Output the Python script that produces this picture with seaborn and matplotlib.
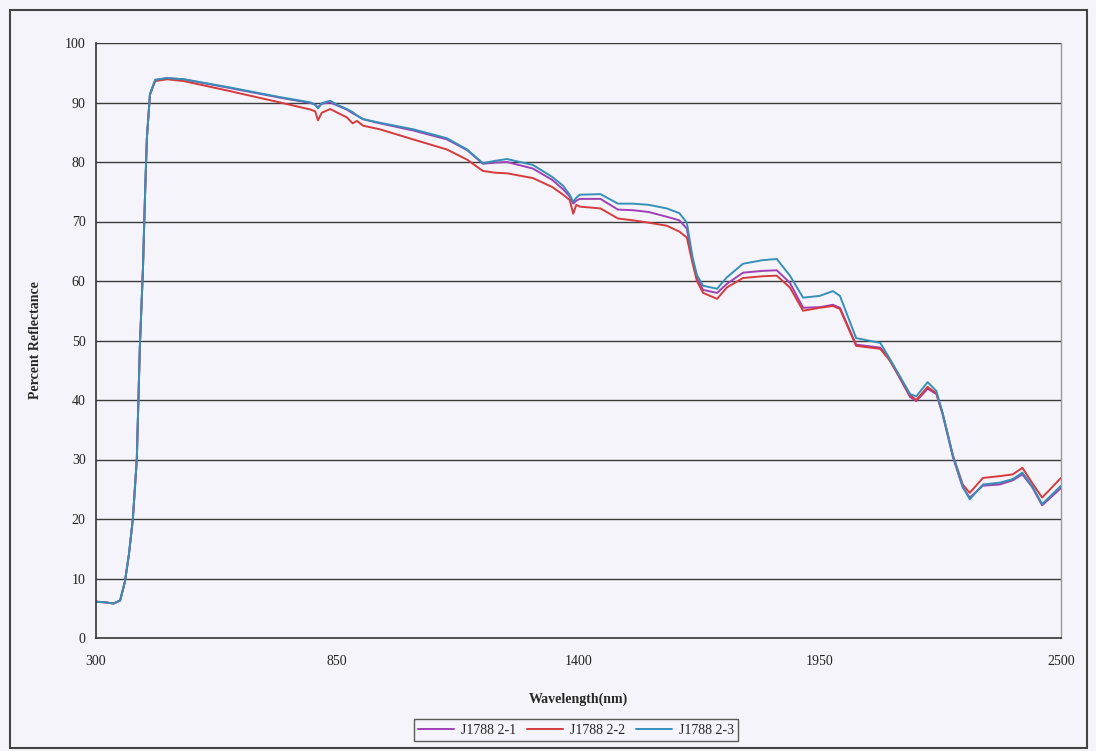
import pandas as pd
import matplotlib.pyplot as plt
import seaborn as sns
from matplotlib.patches import Rectangle

# 파장 (nm) 과 각 시료의 반사율 (%) - 그림에서 읽은 값
wavelength = [300, 320, 340, 355, 366, 375, 384, 393, 400, 407, 412, 416, 423, 435, 462, 500, 600, 720,
              790, 800, 806, 815, 834, 850, 872, 885, 895, 909, 947, 1023, 1100, 1146, 1182, 1210, 1237,
              1296, 1340, 1365, 1380, 1388, 1395, 1403, 1450, 1490, 1524, 1560, 1601, 1630, 1647, 1660,
              1670, 1684, 1716, 1738, 1775, 1820, 1852, 1882, 1912, 1950, 1980, 1996, 2033, 2088, 2110,
              2156, 2170, 2196, 2216, 2230, 2254, 2276, 2292, 2322, 2360, 2390, 2412, 2434, 2457, 2500]

refl_21 = [6.1, 6.0, 5.8, 6.3, 9.5, 14, 20, 30, 49, 62, 75, 84, 91.4, 93.8, 94.1, 93.9, 92.5, 90.8,
           89.9, 89.6, 89.2, 89.8, 90.0, 89.5, 88.8, 88.2, 87.8, 87.2, 86.5, 85.3, 83.8, 82.0, 79.7, 79.9, 80.0,
           78.9, 77.0, 75.4, 74.2, 73.0, 73.5, 73.8, 73.8, 72.0, 71.9, 71.6, 70.8, 70.2, 68.8, 63.5,
           60.5, 58.5, 58.0, 59.5, 61.4, 61.7, 61.8, 59.7, 55.5, 55.6, 56.0, 55.5, 49.3, 48.8, 46.7,
           40.5, 39.8, 41.9, 41.0, 37.6, 30.3, 25.3, 23.6, 25.6, 25.8, 26.5, 27.5, 25.4, 22.3, 25.2]

refl_22 = [6.1, 6.0, 5.8, 6.3, 9.5, 14, 20, 30, 49, 62, 75, 84, 91.3, 93.6, 93.9, 93.6, 92.0, 90.0,
           88.8, 88.5, 87.0, 88.3, 88.9, 88.3, 87.5, 86.5, 86.9, 86.1, 85.5, 83.8, 82.1, 80.4, 78.5, 78.2, 78.1,
           77.3, 75.8, 74.5, 73.6, 71.3, 72.8, 72.5, 72.2, 70.5, 70.2, 69.8, 69.3, 68.3, 67.3, 63.0,
           60.0, 58.0, 57.0, 58.9, 60.5, 60.8, 60.9, 58.9, 55.0, 55.5, 55.8, 55.3, 49.1, 48.6, 46.6,
           40.8, 40.0, 42.2, 41.1, 37.8, 30.6, 25.8, 24.4, 26.9, 27.2, 27.5, 28.6, 26.1, 23.6, 26.9]

refl_23 = [6.1, 6.0, 5.8, 6.3, 9.5, 14, 20, 30, 49, 62, 75, 84, 91.4, 93.8, 94.1, 93.9, 92.6, 90.9,
           90.0, 89.6, 89.0, 89.9, 90.3, 89.6, 88.9, 88.4, 87.8, 87.2, 86.6, 85.5, 84.0, 82.1, 79.8, 80.2, 80.5,
           79.5, 77.5, 76.0, 74.5, 73.3, 74.0, 74.5, 74.6, 73.0, 73.0, 72.8, 72.2, 71.4, 69.8, 64.0,
           61.0, 59.2, 58.7, 60.6, 62.9, 63.5, 63.7, 60.9, 57.2, 57.5, 58.3, 57.5, 50.4, 49.6, 46.9,
           41.0, 40.6, 43.0, 41.5, 37.8, 30.5, 25.5, 23.3, 25.8, 26.1, 26.7, 27.8, 25.6, 22.5, 25.6]

samples = ['J1788 2-1', 'J1788 2-2', 'J1788 2-3']
x_ticks = [300, 850, 1400, 1950, 2500]
y_ticks = list(range(0, 101, 10))

# long-form 데이터 프레임
df = pd.concat([
    pd.DataFrame({'Wavelength': wavelength, 'Reflectance': vals, 'Sample': name})
    for name, vals in zip(samples, [refl_21, refl_22, refl_23])
])

sns.set_style('white')
plt.rcParams['font.family'] = ['Liberation Serif', 'DejaVu Serif']

bg = '#f4f4fa'
fig = plt.figure(figsize=(10.96, 7.51), dpi=100, facecolor=bg)
ax = fig.add_axes([96 / 1096, 1 - 638 / 751, (1061 - 96) / 1096, (638 - 43) / 751])
ax.set_facecolor(bg)

palette = {'J1788 2-1': '#a040b4', 'J1788 2-2': '#d63a3c', 'J1788 2-3': '#3590b8'}
sns.lineplot(data=df, x='Wavelength', y='Reflectance', hue='Sample', palette=palette,
             linewidth=1.4, ax=ax, sort=False)

ax.set_xlim(300, 2500)
ax.set_ylim(0, 100)
ax.set_xticks(x_ticks)
ax.set_yticks(y_ticks)
ax.tick_params(axis='both', direction='out', length=4, width=1, labelsize=10, colors='#222222')
ax.tick_params(axis='x', pad=8)

# 가로 격자선
for v in y_ticks[1:]:
    ax.axhline(v, color='#3a3a3a', lw=1.0, zorder=0)

for side in ['left', 'bottom']:
    ax.spines[side].set_color('#333333')
    ax.spines[side].set_linewidth(1.2)
ax.spines['right'].set_color('#999999')
ax.spines['right'].set_linewidth(1.0)
ax.spines['top'].set_visible(False)

ax.set_xlabel('Wavelength(nm)', fontsize=10, fontweight='bold')
ax.set_ylabel('Percent Reflectance', fontsize=10, fontweight='bold')
ax.xaxis.set_label_coords(0.5, -(693 - 638) / 595)
ax.yaxis.set_label_coords(-(96 - 42) / 965, 0.5)

handles, labels = ax.get_legend_handles_labels()
ax.get_legend().remove()
leg = fig.legend(handles, labels, loc='center', bbox_to_anchor=(576 / 1096, 1 - 730 / 751),
                 ncol=3, fontsize=10, frameon=True, fancybox=False, handlelength=2.6,
                 columnspacing=0.8, handletextpad=0.5, borderpad=0.3)
leg.get_frame().set_edgecolor('#333333')
leg.get_frame().set_linewidth(1.0)
leg.get_frame().set_facecolor(bg)

# 바깥 차트 테두리
fig.patches.append(Rectangle((10 / 1096, 3 / 751), (1087 - 10) / 1096, (741 - 3) / 751,
                             transform=fig.transFigure, fill=False, edgecolor='#444444', lw=1.5))

fig.savefig('out.png', dpi=100, facecolor=bg)
